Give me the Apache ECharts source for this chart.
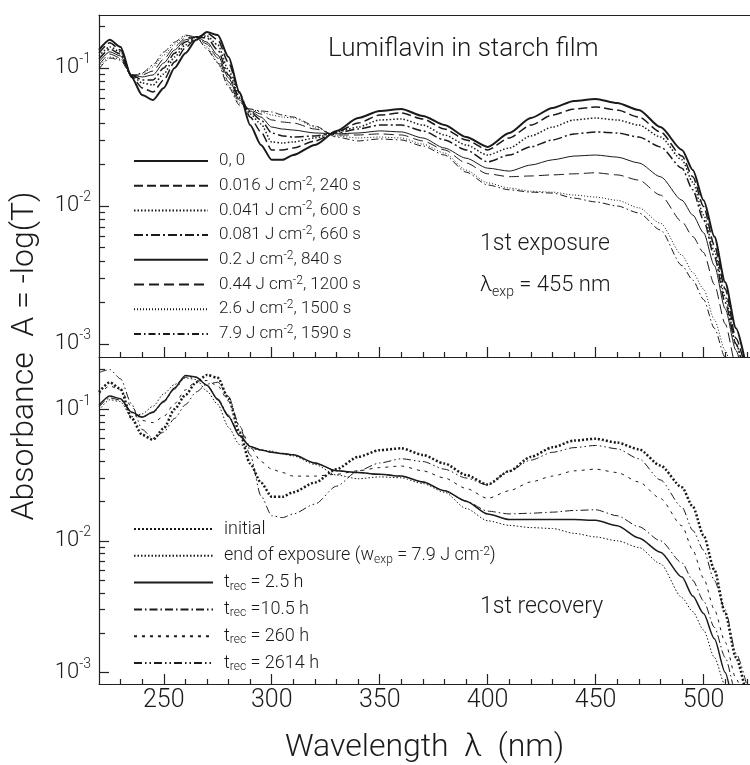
<!DOCTYPE html>
<html><head><meta charset="utf-8">
<script src="https://cdn.jsdelivr.net/npm/echarts@6/dist/echarts.min.js"></script>
<style>html,body{margin:0;padding:0;background:#fff}#c{width:750px;height:765px}</style>
</head><body><div id="c"></div>
<script>
// ---------- data ----------
const wavelength = [220,225,230,235,240,245,250,255,260,265,270,275,280,285,290,295,300,305,310,
  320,330,340,350,360,370,380,390,400,410,420,430,440,450,460,470,480,490,495,500,505,510,515,520];

// 1st exposure (top panel)
const exp0_0 = [0.135,0.160,0.142,0.0861,0.0637,0.0586,0.0716,0.100,0.128,0.160,0.182,0.173,0.120,0.067,0.0386,0.0277,0.0216,0.0216,0.0234,
  0.0277,0.035,0.0434,0.0488,0.0504,0.0449,0.0386,0.0316,0.0268,0.0338,0.0434,0.0513,0.0577,0.0596,0.0557,0.0496,0.0373,0.0255,0.0182,0.0110,0.0060,0.0028,0.0013,0.00065];
const exp0_016 = [0.128,0.152,0.135,0.0875,0.0716,0.067,0.0818,0.1105,0.140,0.165,0.179,0.160,0.109,0.066,0.0441,0.0344,0.0255,0.0255,0.0263,
  0.0296,0.0344,0.0399,0.0456,0.0472,0.0427,0.0361,0.0301,0.0255,0.0311,0.0386,0.0456,0.0504,0.0522,0.0496,0.0441,0.0344,0.0230,0.0163,0.0099,0.0052,0.0025,0.0011,0.0006];
const exp0_041 = [0.122,0.142,0.131,0.089,0.0778,0.0753,0.0905,0.120,0.147,0.168,0.1705,0.147,0.0967,0.0616,0.0464,0.0393,0.0291,0.0286,0.0291,
  0.0311,0.0344,0.0373,0.042,0.0427,0.0386,0.0327,0.0277,0.0234,0.0263,0.0322,0.0373,0.042,0.0434,0.042,0.0386,0.0316,0.0216,0.0149,0.0086,0.0047,0.0022,0.0010,0.0005];
const exp0_081 = [0.116,0.137,0.126,0.089,0.0818,0.0818,0.100,0.128,0.154,0.168,0.165,0.135,0.089,0.0606,0.048,0.042,0.0338,0.0322,0.0316,
  0.0322,0.0338,0.0361,0.0386,0.0386,0.035,0.0301,0.0255,0.0209,0.0234,0.0268,0.0301,0.0333,0.0344,0.0338,0.0316,0.0268,0.0188,0.0131,0.0079,0.0043,0.0020,0.0010,0.0005];
const exp0_2 = [0.1105,0.131,0.122,0.089,0.0861,0.089,0.1087,0.135,0.160,0.168,0.154,0.124,0.0846,0.0586,0.0488,0.0441,0.0373,0.0361,0.0355,
  0.0338,0.0333,0.0338,0.035,0.0344,0.0311,0.0263,0.0222,0.0188,0.0179,0.0198,0.0216,0.023,0.0234,0.0226,0.0205,0.0163,0.0110,0.0086,0.0064,0.0037,0.0018,0.0009,0.0004];
const exp0_44 = [0.1051,0.1263,0.118,0.089,0.089,0.0951,0.116,0.142,0.165,0.168,0.149,0.118,0.0792,0.0567,0.0496,0.0464,0.042,0.0406,0.0399,
  0.0361,0.0327,0.0327,0.0333,0.0327,0.0296,0.0255,0.0205,0.0171,0.0163,0.0165,0.0168,0.0171,0.0174,0.0168,0.0154,0.0120,0.0077,0.0060,0.0046,0.0027,0.0014,0.0007,0.0004];
const exp2_6 = [0.1017,0.120,0.116,0.0875,0.0905,0.1017,0.124,0.149,0.1705,0.168,0.142,0.1105,0.0753,0.0557,0.0504,0.048,0.0456,0.0441,0.0434,
  0.0373,0.0322,0.0311,0.0316,0.0311,0.0281,0.0242,0.0182,0.0147,0.0135,0.0128,0.0126,0.0120,0.0116,0.0110,0.0097,0.0075,0.0044,0.0033,0.0025,0.0015,0.0009,0.0005,0.0003];
const exp7_9 = [0.0983,0.118,0.114,0.0875,0.092,0.1051,0.1306,0.154,0.173,0.168,0.137,0.1087,0.0728,0.0539,0.0504,0.0488,0.048,0.0456,0.0441,
  0.038,0.0316,0.0296,0.0306,0.0301,0.0272,0.0234,0.0176,0.0142,0.0131,0.0126,0.0124,0.0114,0.0107,0.0100,0.0089,0.0067,0.0037,0.0029,0.0021,0.0013,0.0008,0.0004,0.0002];

// 1st recovery (bottom panel); "initial" = exp0_0, "end of exposure" = exp7_9
const rec2_5 = [0.107,0.126,0.12,0.095,0.087,0.095,0.115,0.145,0.18,0.175,0.152,0.118,0.088,0.063,0.052,0.049,0.047,0.046,0.045,
  0.039,0.034,0.033,0.032,0.031,0.028,0.024,0.020,0.016,0.0145,0.0145,0.0145,0.0145,0.0143,0.013,0.0105,0.0082,0.0053,0.0038,0.0028,0.0018,0.0010,0.0005,0.0003];
const rec10_5 = [0.104,0.122,0.117,0.094,0.087,0.094,0.113,0.142,0.175,0.175,0.152,0.12,0.09,0.064,0.052,0.049,0.047,0.046,0.045,
  0.039,0.034,0.033,0.032,0.031,0.028,0.024,0.020,0.0168,0.0160,0.0162,0.0165,0.0170,0.0172,0.0155,0.0128,0.0100,0.0068,0.0050,0.0035,0.0022,0.0013,0.0007,0.0004];
const rec260 = [0.13,0.15,0.14,0.105,0.082,0.079,0.088,0.11,0.14,0.163,0.165,0.15,0.115,0.075,0.052,0.040,0.035,0.033,0.031,
  0.031,0.032,0.034,0.036,0.037,0.034,0.030,0.025,0.021,0.024,0.028,0.031,0.034,0.035,0.033,0.028,0.021,0.013,0.0085,0.0052,0.003,0.0017,0.0009,0.0005];
const rec2614 = [0.19,0.2,0.17,0.11,0.07,0.06,0.067,0.085,0.108,0.135,0.155,0.16,0.125,0.075,0.045,0.022,0.0155,0.015,0.016,
  0.019,0.026,0.034,0.039,0.042,0.040,0.035,0.030,0.0265,0.034,0.041,0.047,0.051,0.053,0.050,0.042,0.029,0.018,0.012,0.0085,0.005,0.003,0.0014,0.0008];

// ticks
const xMajorTicks = [250,300,350,400,450,500];
const xMinorTicks = [230,240,260,270,280,290,310,320,330,340,360,370,380,390,410,420,430,440,460,470,480,490,510,520];
const yMajorTicks = [0.001,0.01,0.1];
const yMinorTicks = [0.002,0.003,0.004,0.005,0.006,0.007,0.008,0.009,0.02,0.03,0.04,0.05,0.06,0.07,0.08,0.09,0.2];

const topNames = ['0, 0','0.016 J cm-2, 240 s','0.041 J cm-2, 600 s','0.081 J cm-2, 660 s','0.2 J cm-2, 840 s','0.44 J cm-2, 1200 s','2.6 J cm-2, 1500 s','7.9 J cm-2, 1590 s'];
const botNames = ['initial','end of exposure (wexp = 7.9 J cm-2)','trec = 2.5 h','trec =10.5 h','trec = 260 h','trec = 2614 h'];

// ---------- chart ----------
const F = 'Roboto';
const FW = 300;
const C = '#1a1a1a';
const pairs = arr => wavelength.map((w, i) => [w, arr[i]]);

function line(name, arr, grid, width, type) {
  return {
    type: 'line', name, data: pairs(arr), xAxisIndex: grid === 0 ? 0 : 3, yAxisIndex: grid === 0 ? 0 : 2,
    symbol: 'none', smooth: 0.25, smoothMonotone: 'x', clip: true,
    lineStyle: { color: C, width, type }, itemStyle: { color: C }
  };
}
const series = [
  line(topNames[0], exp0_0, 0, 2, 'solid'),
  line(topNames[1], exp0_016, 0, 1.5, [9, 4]),
  line(topNames[2], exp0_041, 0, 1.5, [1.5, 2]),
  line(topNames[3], exp0_081, 0, 1.5, [9, 3, 2, 3]),
  line(topNames[4], exp0_2, 0, 1, 'solid'),
  line(topNames[5], exp0_44, 0, 1, [10, 5]),
  line(topNames[6], exp2_6, 0, 1, [1, 2]),
  line(topNames[7], exp7_9, 0, 1, [7, 3, 1.5, 3]),
  line(botNames[0], exp0_0, 1, 2.5, [2, 2]),
  line(botNames[1], exp7_9, 1, 1, [1.5, 2]),
  line(botNames[2], rec2_5, 1, 1.5, 'solid'),
  line(botNames[3], rec10_5, 1, 1, [8, 3, 1.5, 3]),
  line(botNames[4], rec260, 1, 1, [3, 5]),
  line(botNames[5], rec2614, 1, 1, [8, 3, 1.5, 3, 1.5, 3])
];

const richFmt = n => n.replace('cm-2', 'cm{sup|-2}').replace('wexp', 'w{sub|exp}').replace('trec', 't{sub|rec}');
function legend(data, top, w, gap, fs) {
  return {
    data, orient: 'vertical', left: 128, top, itemWidth: w, itemHeight: 20, itemGap: gap,
    selectedMode: false, formatter: richFmt,
    itemStyle: { opacity: 0 },
    textStyle: {
      fontFamily: F, fontWeight: FW, fontSize: fs, color: C, lineHeight: 20, padding: [0, 0, 0, 6],
      rich: {
        sup: { fontSize: 12, lineHeight: 12, verticalAlign: 'top', fontFamily: F, fontWeight: FW, color: C },
        sub: { fontSize: 12, lineHeight: 12, verticalAlign: 'bottom', fontFamily: F, fontWeight: FW, color: C }
      }
    }
  };
}

const lineSty = { color: '#222', width: 1.2 };
function xAx(grid, opts) {
  return Object.assign({
    type: 'value', gridIndex: grid, min: 220, max: 521.5, position: 'bottom',
    axisLine: { show: false }, axisTick: { show: false }, axisLabel: { show: false },
    splitLine: { show: false }
  }, opts);
}
function yAx(grid, mn, mx, opts) {
  return Object.assign({
    type: 'log', logBase: 10, gridIndex: grid, min: mn, max: mx, position: 'left',
    axisLine: { show: false }, axisTick: { show: false }, axisLabel: { show: false },
    splitLine: { show: false }, minorSplitLine: { show: false }
  }, opts);
}
const yLabel = {
  show: true, customValues: yMajorTicks, margin: 8,
  formatter: v => '{b|10}{s|' + Math.round(Math.log10(v)) + '}',
  rich: {
    b: { fontFamily: F, fontWeight: FW, fontSize: 22, lineHeight: 30, color: C },
    s: { fontFamily: F, fontWeight: FW, fontSize: 14, lineHeight: 14, verticalAlign: 'top', color: C }
  }
};

const option = {
  animation: false,
  backgroundColor: '#fff',
  grid: [
    { left: 99, top: 15, width: 651, height: 342 },
    { left: 99, top: 357, width: 651, height: 338 }
  ],
  xAxis: [
    xAx(0, { axisLine: { show: true, lineStyle: lineSty }, axisTick: { show: true, inside: true, length: 5, customValues: xMinorTicks, lineStyle: lineSty } }),
    xAx(0, { axisTick: { show: true, inside: true, length: 10, customValues: xMajorTicks, lineStyle: lineSty } }),
    xAx(0, { position: 'top', axisLine: { show: true, lineStyle: lineSty } }),
    xAx(1, { axisLine: { show: true, lineStyle: lineSty }, axisTick: { show: true, inside: true, length: 5, customValues: xMinorTicks, lineStyle: lineSty } }),
    xAx(1, {
      axisTick: { show: true, inside: true, length: 10, customValues: xMajorTicks, lineStyle: lineSty },
      axisLabel: { show: true, customValues: xMajorTicks, margin: 4, fontFamily: F, fontWeight: FW, fontSize: 25, color: C },
      name: 'Wavelength  \u03bb  (nm)', nameLocation: 'middle', nameGap: 48,
      nameTextStyle: { fontFamily: F, fontWeight: FW, fontSize: 32, color: C }
    })
  ],
  yAxis: [
    yAx(0, 0.000805, 0.242, { axisLine: { show: true, lineStyle: lineSty }, axisTick: { show: true, inside: true, length: 10, customValues: yMajorTicks, lineStyle: lineSty }, axisLabel: yLabel }),
    yAx(0, 0.000805, 0.242, { axisTick: { show: true, inside: true, length: 6, customValues: yMinorTicks, lineStyle: lineSty } }),
    yAx(1, 0.000817, 0.249, { axisLine: { show: true, lineStyle: lineSty }, axisTick: { show: true, inside: true, length: 10, customValues: yMajorTicks, lineStyle: lineSty }, axisLabel: yLabel }),
    yAx(1, 0.000817, 0.249, { axisTick: { show: true, inside: true, length: 6, customValues: yMinorTicks, lineStyle: lineSty } })
  ],
  legend: [
    legend(topNames, 146, 74, 4.7, 17),
    legend(botNames, 514, 79, 6.8, 18)
  ],
  graphic: [
    { type: 'text', x: 328, y: 49, style: { text: 'Lumiflavin in starch film', fontFamily: F, fontWeight: FW, fontSize: 26, fill: C, verticalAlign: 'middle' } },
    { type: 'text', x: 480, y: 244, style: { text: '1st exposure', fontFamily: F, fontWeight: FW, fontSize: 23, fill: C, verticalAlign: 'middle' } },
    { type: 'text', x: 480, y: 285, style: {
        text: '{a|\u03bb}{b|exp}{a| = 455 nm}', fontFamily: F, fontWeight: FW, fill: C, verticalAlign: 'middle',
        rich: { a: { fontFamily: F, fontWeight: FW, fontSize: 22, lineHeight: 28, fill: C }, b: { fontFamily: F, fontWeight: FW, fontSize: 14, lineHeight: 14, verticalAlign: 'bottom', fill: C } } } },
    { type: 'text', x: 480, y: 607, style: { text: '1st recovery', fontFamily: F, fontWeight: FW, fontSize: 23, fill: C, verticalAlign: 'middle' } },
    { type: 'text', x: 25, y: 356, rotation: Math.PI / 2, style: { text: 'Absorbance  A = -log(T)', fontFamily: F, fontWeight: FW, fontSize: 32, fill: C, align: 'center', verticalAlign: 'middle' } }
  ],
  series
};
const chart = echarts.init(document.getElementById('c'), null, { renderer: 'canvas' });
chart.setOption(option);
</script>
</body></html>
